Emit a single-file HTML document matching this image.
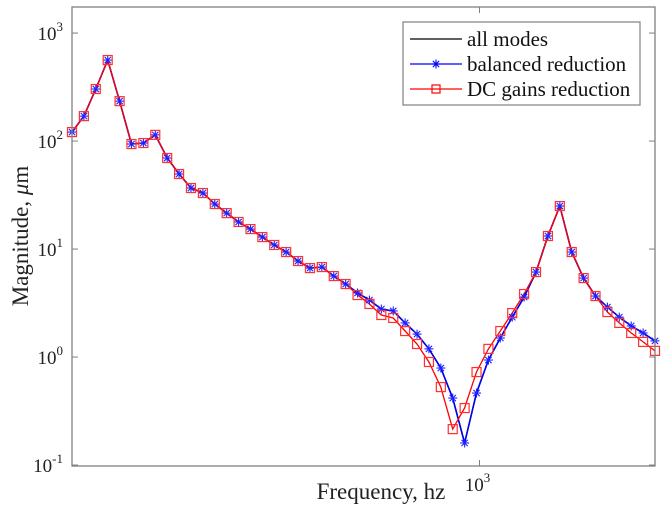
<!DOCTYPE html>
<html><head><meta charset="utf-8">
<style>
body{margin:0;background:#fff;}
svg{display:block;font-family:"Liberation Serif",serif;}
</style></head>
<body>
<svg id="chart" width="666" height="518" viewBox="0 0 666 518">
<rect x="0" y="0" width="666" height="518" fill="#fff"/>
<g id="plot"></g>
<rect x="72" y="7" width="583" height="459" fill="none" stroke="#808080" stroke-width="1.3"/>
<g id="ticks"></g>
<text x="381" y="499" font-size="23" text-anchor="middle" fill="#222">Frequency, hz</text>
<text transform="translate(28,236) rotate(-90)" font-size="23" text-anchor="middle" fill="#222">Magnitude, <tspan font-style="italic">μ</tspan>m</text>
<g>
<rect x="403" y="22" width="237" height="83" fill="#fff" stroke="#808080" stroke-width="1.2"/>
<g>
<line x1="410" y1="39" x2="462" y2="39" stroke="#000" stroke-width="1.2"/>
<text x="467" y="46" font-size="21" fill="#111">all modes</text></g>
<g>
<line x1="410" y1="64" x2="462" y2="64" stroke="#0000ff" stroke-width="1.2"/>
<g id="legStar"></g>
<text x="467" y="71" font-size="21" fill="#111">balanced reduction</text></g>
<g>
<line x1="410" y1="89" x2="462" y2="89" stroke="#ff0000" stroke-width="1.2"/>
<rect x="432" y="85" width="8" height="8" fill="none" stroke="#ff0000" stroke-width="1.2"/>
<text x="467" y="96" font-size="21" fill="#111">DC gains reduction</text></g>
</g>
</svg>
<script>
const freqIndex = Array.from({length:50},(_,i)=>i);
const fMin = 200, fMax = 2000;
const allModes = [121,170,303,562,234,93.8,95.8,114,69.6,49.5,36.7,33.0,26.1,21.5,17.8,15.3,12.9,10.9,9.38,7.74,6.66,6.81,5.62,4.74,3.92,3.37,2.78,2.67,2.07,1.63,1.19,0.791,0.417,0.160,0.464,0.938,1.50,2.34,3.59,6.12,13.2,25.0,9.38,5.38,3.67,2.90,2.34,1.94,1.67,1.41];
const balanced = [121,170,303,562,234,93.8,95.8,114,69.6,49.5,36.7,33.0,26.1,21.5,17.8,15.3,12.9,10.9,9.38,7.74,6.66,6.81,5.62,4.74,3.92,3.37,2.78,2.67,2.07,1.63,1.19,0.791,0.417,0.160,0.464,0.938,1.50,2.34,3.59,6.12,13.2,25.0,9.38,5.38,3.67,2.90,2.34,1.94,1.67,1.41];
const dcGains = [121,170,303,562,234,93.8,95.8,114,69.6,49.5,36.7,33.0,26.1,21.5,17.8,15.3,12.9,10.9,9.38,7.74,6.66,6.81,5.62,4.74,3.75,3.10,2.45,2.30,1.74,1.32,0.90,0.527,0.215,0.337,0.726,1.19,1.74,2.55,3.83,6.12,13.2,25.0,9.38,5.38,3.67,2.61,2.07,1.67,1.38,1.14];
const yTickValues = [0.1,1,10,100,1000];
const yTickExps = ["-1","0","1","2","3"];
const xTickValues = [1000];
const xTickExps = ["3"];

const NS="http://www.w3.org/2000/svg";
const L=72,R=655,T=7,B=466;
const yLo=-1.009,yHi=3.241;
function freqOf(i){return fMin*Math.pow(fMax/fMin,i/(freqIndex.length-1));}
function xs(f){return L+(Math.log10(f)-Math.log10(fMin))/(Math.log10(fMax)-Math.log10(fMin))*(R-L);}
function ys(v){return B-(Math.log10(v)-yLo)/(yHi-yLo)*(B-T);}
function mk(tag,attrs,parent){const e=document.createElementNS(NS,tag);for(const k in attrs)e.setAttribute(k,attrs[k]);parent.appendChild(e);return e;}
const plot=document.getElementById('plot'), ticks=document.getElementById('ticks');
function line(vals,color,w,name){
  const p=mk('polyline',{points:vals.map((v,i)=>xs(freqOf(i)).toFixed(1)+','+ys(v).toFixed(1)).join(' '),fill:'none',stroke:color,'stroke-width':w},plot);
  
  
}
function star(g,x,y,c){
  const r=4.5;
  [[r,0],[0,r],[r*0.7,r*0.7],[r*0.7,-r*0.7]].forEach(([dx,dy])=>mk('line',{x1:x-dx,y1:y-dy,x2:x+dx,y2:y+dy,stroke:c,'stroke-width':1.1},g));
}
line(allModes,'#000',1.5,'all-modes-line');
line(balanced,'#0000ff',1.5,'balanced-line');
line(dcGains,'#ff0000',1.3,'dc-gains-line');
balanced.forEach((v,i)=>{
  const g=mk('g',{},plot);
  
  
  star(g,xs(freqOf(i)),ys(v),'#2020ff');
});
dcGains.forEach((v,i)=>{
  const r=mk('rect',{x:xs(freqOf(i))-4.5,y:ys(v)-4.5,width:9,height:9,fill:'none',stroke:'#ff3030','stroke-width':1.2},plot);
  
  
});
star(document.getElementById('legStar'),436,64,'#0000ff');
yTickValues.forEach((v,i)=>{
  const y=ys(v);
  if(y<T-1||y>B+1)return;
  mk('line',{x1:L,y1:y,x2:L+6,y2:y,stroke:'#808080'},ticks);
  mk('line',{x1:R,y1:y,x2:R-6,y2:y,stroke:'#808080'},ticks);
  const t=mk('text',{x:L-9,y:y+7,'font-size':19,'text-anchor':'end',fill:'#222'},ticks);
  
  
  t.textContent='10';
  const s=mk('tspan',{dy:-9,'font-size':13},t); s.textContent=yTickExps[i];
});
xTickValues.forEach((v,i)=>{
  const x=xs(v);
  mk('line',{x1:x,y1:B,x2:x,y2:B-6,stroke:'#808080'},ticks);
  mk('line',{x1:x,y1:T,x2:x,y2:T+6,stroke:'#808080'},ticks);
  const t=mk('text',{x:x-2,y:B+25,'font-size':19,'text-anchor':'middle',fill:'#222'},ticks);
  
  
  t.textContent='10';
  const s=mk('tspan',{dy:-9,'font-size':13},t); s.textContent=xTickExps[i];
});
</script>
</body></html>
